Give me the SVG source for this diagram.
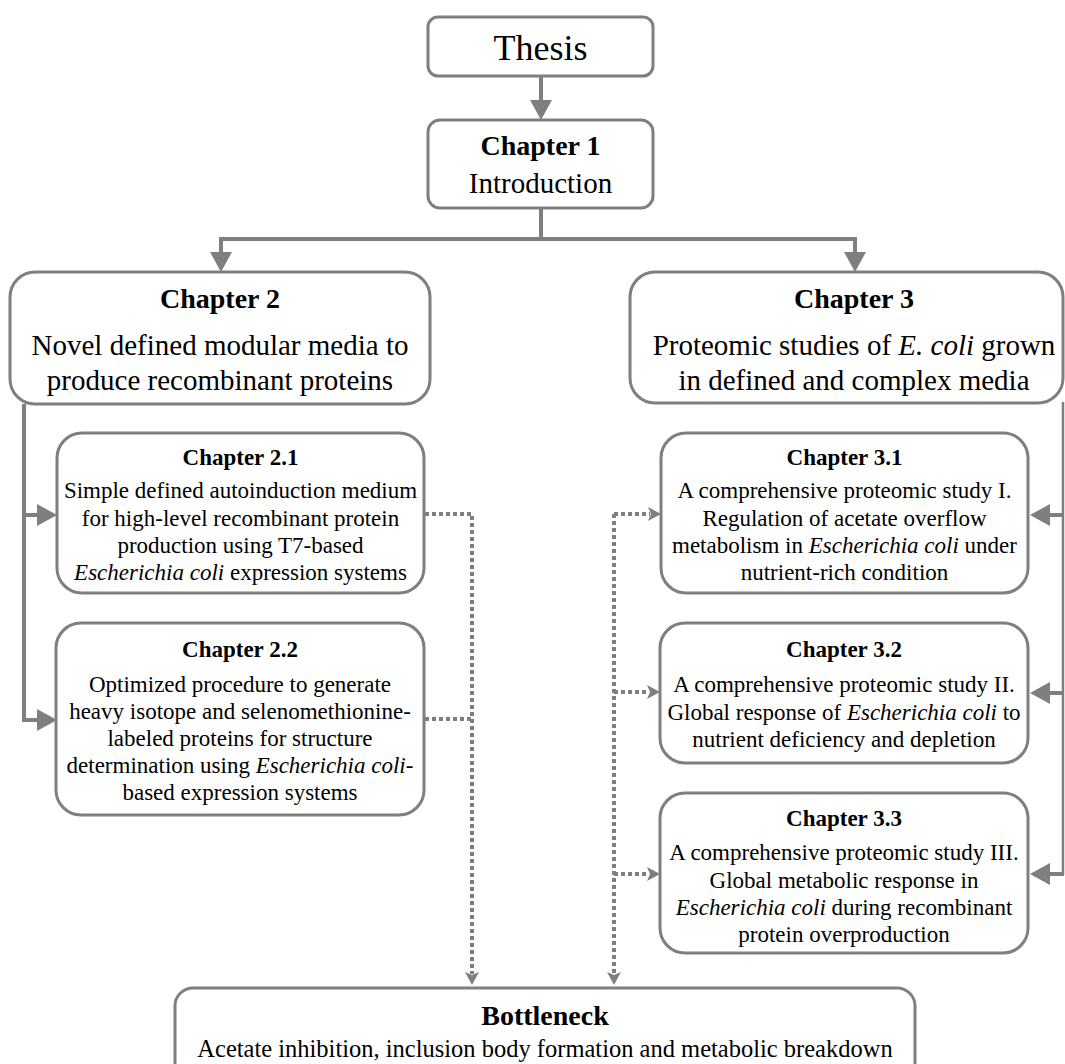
<svg xmlns="http://www.w3.org/2000/svg" width="1065" height="1064" viewBox="0 0 1065 1064">
<style>
.box{fill:#fff;stroke:#7f7f7f;stroke-width:3}
.con{fill:none;stroke:#7f7f7f;stroke-width:4}
.thin{fill:none;stroke:#7f7f7f;stroke-width:2.5}
.dot{fill:none;stroke:#7f7f7f;stroke-width:4;stroke-dasharray:4 3}
text{font-family:"Liberation Serif","Times New Roman",serif;fill:#000;text-anchor:middle}
.t{font-weight:bold;font-size:23px}
.b{font-size:23px}
.T{font-weight:bold;font-size:28px}
.B{font-size:29px}
.i{font-style:italic}
</style>
<defs>
<marker id="ah" markerUnits="userSpaceOnUse" markerWidth="20" markerHeight="22" viewBox="0 0 20 22" refX="0" refY="11" orient="auto"><path d="M0,0 L20,11 L0,22 z" fill="#7f7f7f"/></marker>
<marker id="dh" markerUnits="userSpaceOnUse" markerWidth="13" markerHeight="14" viewBox="0 0 13 14" refX="2" refY="7" orient="auto"><path d="M0,0 L13,7 L0,14 L3,7 z" fill="#7f7f7f"/></marker>
</defs>
<rect width="1065" height="1064" fill="#fff"/>
<g id="connectors">
<path class="con" d="M541,77 V100" marker-end="url(#ah)"/>
<path class="con" d="M541,208 V239"/>
<path class="con" d="M219,239 H857"/>
<path class="con" d="M221,239 V252" marker-end="url(#ah)"/>
<path class="con" d="M855,239 V252" marker-end="url(#ah)"/>
<path class="con" d="M24,404 V720 H37" marker-end="url(#ah)"/>
<path class="con" d="M24,515 H37" marker-end="url(#ah)"/>
<path class="thin" d="M1063,402 V875"/>
<path class="con" d="M1064,515 H1050" marker-end="url(#ah)"/>
<path class="con" d="M1064,693 H1050" marker-end="url(#ah)"/>
<path class="con" d="M1064,874 H1050" marker-end="url(#ah)"/>
<path class="dot" d="M425,514 H472 V974" marker-end="url(#dh)"/>
<path class="dot" d="M425,719 H472"/>
<path class="dot" d="M614,514 V974" marker-end="url(#dh)"/>
<path class="dot" d="M614,514 H650" marker-end="url(#dh)"/>
<path class="dot" d="M614,692 H649" marker-end="url(#dh)"/>
<path class="dot" d="M614,874 H649" marker-end="url(#dh)"/>
</g>
<g id="thesis">
<rect class="box" x="428" y="17" width="225" height="59" rx="10"/>
<text x="540.5" y="60" font-size="36">Thesis</text>
</g>
<g id="ch1">
<rect class="box" x="428" y="120" width="225" height="88" rx="12"/>
<text class="T" x="540.5" y="155">Chapter 1</text>
<text class="B" x="540.5" y="193">Introduction</text>
</g>
<g id="ch2">
<rect class="box" x="10" y="272" width="420" height="132" rx="25"/>
<text class="T" x="220" y="308">Chapter 2</text>
<text class="B" x="220" y="355">Novel defined modular media to</text>
<text class="B" x="220" y="390">produce recombinant proteins</text>
</g>
<g id="ch3">
<rect class="box" x="630" y="272" width="433" height="131" rx="25"/>
<text class="T" x="854" y="308">Chapter 3</text>
<text class="B" x="854" y="355">Proteomic studies of <tspan class="i">E. coli</tspan> grown</text>
<text class="B" x="854" y="390">in defined and complex media</text>
</g>
<g id="ch2_1">
<rect class="box" x="57" y="433" width="367" height="160" rx="25"/>
<text class="t" x="240.5" y="465">Chapter 2.1</text>
<text class="b" x="240.5" y="498">Simple defined autoinduction medium</text>
<text class="b" x="240.5" y="526">for high-level recombinant protein</text>
<text class="b" x="240.5" y="553">production using T7-based</text>
<text class="b" x="240.5" y="580"><tspan class="i">Escherichia coli</tspan> expression systems</text>
</g>
<g id="ch2_2">
<rect class="box" x="56" y="623" width="368" height="192" rx="25"/>
<text class="t" x="240" y="657">Chapter 2.2</text>
<text class="b" x="240" y="692">Optimized procedure to generate</text>
<text class="b" x="240" y="719">heavy isotope and selenomethionine-</text>
<text class="b" x="240" y="746">labeled proteins for structure</text>
<text class="b" x="240" y="773">determination using <tspan class="i">Escherichia coli</tspan>-</text>
<text class="b" x="240" y="800">based expression systems</text>
</g>
<g id="ch3_1">
<rect class="box" x="661" y="433" width="367" height="160" rx="25"/>
<text class="t" x="844.5" y="465">Chapter 3.1</text>
<text class="b" x="844.5" y="498">A comprehensive proteomic study I.</text>
<text class="b" x="844.5" y="526">Regulation of acetate overflow</text>
<text class="b" x="844.5" y="553">metabolism in <tspan class="i">Escherichia coli</tspan> under</text>
<text class="b" x="844.5" y="580">nutrient-rich condition</text>
</g>
<g id="ch3_2">
<rect class="box" x="660" y="623" width="368" height="140" rx="25"/>
<text class="t" x="844" y="657">Chapter 3.2</text>
<text class="b" x="844" y="692">A comprehensive proteomic study II.</text>
<text class="b" x="844" y="720">Global response of <tspan class="i">Escherichia coli</tspan> to</text>
<text class="b" x="844" y="747">nutrient deficiency and depletion</text>
</g>
<g id="ch3_3">
<rect class="box" x="660" y="793" width="368" height="160" rx="25"/>
<text class="t" x="844" y="826">Chapter 3.3</text>
<text class="b" x="844" y="860">A comprehensive proteomic study III.</text>
<text class="b" x="844" y="888">Global metabolic response in</text>
<text class="b" x="844" y="915"><tspan class="i">Escherichia coli</tspan> during recombinant</text>
<text class="b" x="844" y="942">protein overproduction</text>
</g>
<g id="bottleneck">
<rect class="box" x="175" y="988" width="740" height="92" rx="18"/>
<text class="T" x="545" y="1025" font-size="29">Bottleneck</text>
<text x="545" y="1057" font-size="24.5">Acetate inhibition, inclusion body formation and metabolic breakdown</text>
</g>
</svg>
